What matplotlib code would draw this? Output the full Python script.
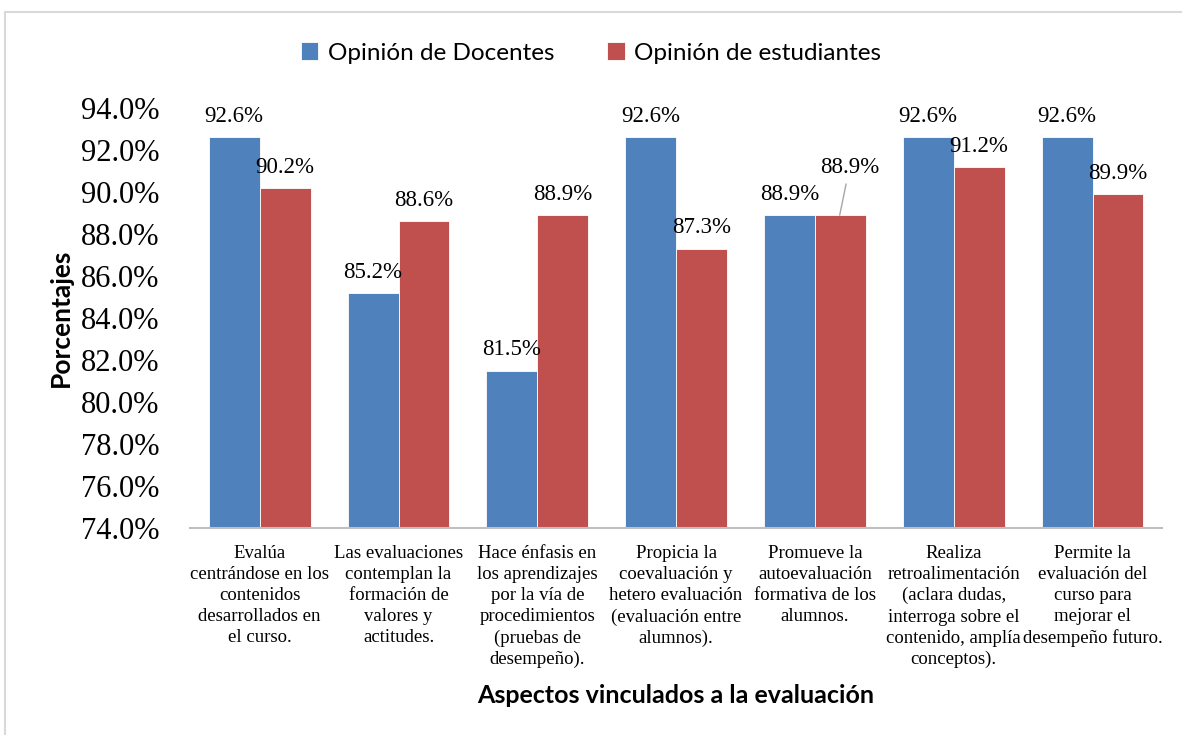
import numpy as np
import matplotlib.pyplot as plt
from matplotlib.patches import Rectangle

categories = [
    "Evalúa\ncentrándose en los\ncontenidos\ndesarrollados en\nel curso.",
    "Las evaluaciones\ncontemplan la\nformación de\nvalores y\nactitudes.",
    "Hace énfasis en\nlos aprendizajes\npor la vía de\nprocedimientos\n(pruebas de\ndesempeño).",
    "Propicia la\ncoevaluación y\nhetero evaluación\n(evaluación entre\nalumnos).",
    "Promueve la\nautoevaluación\nformativa de los\nalumnos.",
    "Realiza\nretroalimentación\n(aclara dudas,\ninterroga sobre el\ncontenido, amplía\nconceptos).",
    "Permite la\nevaluación del\ncurso para\nmejorar el\ndesempeño futuro.",
]
docentes = [92.6, 85.2, 81.5, 92.6, 88.9, 92.6, 92.6]
estudiantes = [90.2, 88.6, 88.9, 87.3, 88.9, 91.2, 89.9]
series_names = ["Opinión de Docentes", "Opinión de estudiantes"]
yticks = [74, 76, 78, 80, 82, 84, 86, 88, 90, 92, 94]

blue = "#4F81BD"
red = "#C0504D"
serif = "Liberation Serif"
sans = "Lato"

fig = plt.figure(figsize=(11.82, 7.35), dpi=100)
ax = fig.add_axes([0.161, 0.2816, 0.822, 0.5714])

# light frame around the chart area
fig.patches.append(Rectangle((5 / 1182, -0.01), 1.2, (735 - 12) / 735 + 0.01,
                             transform=fig.transFigure, fill=False,
                             edgecolor="#d9d9d9", linewidth=1.5))

x = np.arange(len(categories))
w = 0.367
b1 = ax.bar(x - w / 2, docentes, w, color=blue, edgecolor="white", linewidth=0.6,
            label=series_names[0])
b2 = ax.bar(x + w / 2, estudiantes, w, color=red, edgecolor="white", linewidth=0.6,
            label=series_names[1])

ax.set_ylim(74, 94)
ax.set_xlim(-0.5, len(categories) - 0.5)
ax.set_yticks(yticks)
ax.set_yticklabels([f"{v:.1f}%" for v in yticks], fontfamily=serif, fontsize=22)
ax.tick_params(axis="y", length=0, pad=22)
ax.tick_params(axis="x", length=0, pad=12)
ax.set_xticks(x)
ax.set_xticklabels(categories, fontfamily=serif, fontsize=13.5, linespacing=1.32,
                   va="top")

for s in ["top", "right", "left"]:
    ax.spines[s].set_visible(False)
ax.spines["bottom"].set_color("#bfbfbf")
ax.spines["bottom"].set_linewidth(1.5)

# value labels
for i, v in enumerate(docentes):
    ax.annotate(f"{v:.1f}%", (x[i] - w / 2, v), xytext=(0, 11), textcoords="offset points",
                ha="center", va="baseline", fontfamily=serif, fontsize=16.5)
for i, v in enumerate(estudiantes):
    if i == 4:
        ax.annotate(f"{v:.1f}%", (x[i] + w / 2 - 0.005, v), xytext=(7, 30),
                    textcoords="offset points", ha="center", va="baseline",
                    fontfamily=serif, fontsize=16.5,
                    arrowprops=dict(arrowstyle="-", color="#a6a6a6", lw=1,
                                    shrinkA=2, shrinkB=0))
    else:
        ax.annotate(f"{v:.1f}%", (x[i] + w / 2, v), xytext=(0, 11), textcoords="offset points",
                    ha="center", va="baseline", fontfamily=serif, fontsize=16.5)

ax.set_ylabel("Porcentajes", fontfamily=sans, fontsize=19, fontweight="bold", labelpad=6)
ax.set_xlabel("Aspectos vinculados a la evaluación", fontfamily=sans, fontsize=18,
              fontweight="bold", labelpad=11)

fig.legend(handles=[b1, b2], loc="center", bbox_to_anchor=(0.5, 1 - 53 / 735), ncol=2,
           frameon=False, prop={"family": sans, "size": 17.5}, handlelength=0.7,
           handleheight=0.7, handletextpad=0.4, columnspacing=2.2)

fig.savefig("out.png", dpi=100)
